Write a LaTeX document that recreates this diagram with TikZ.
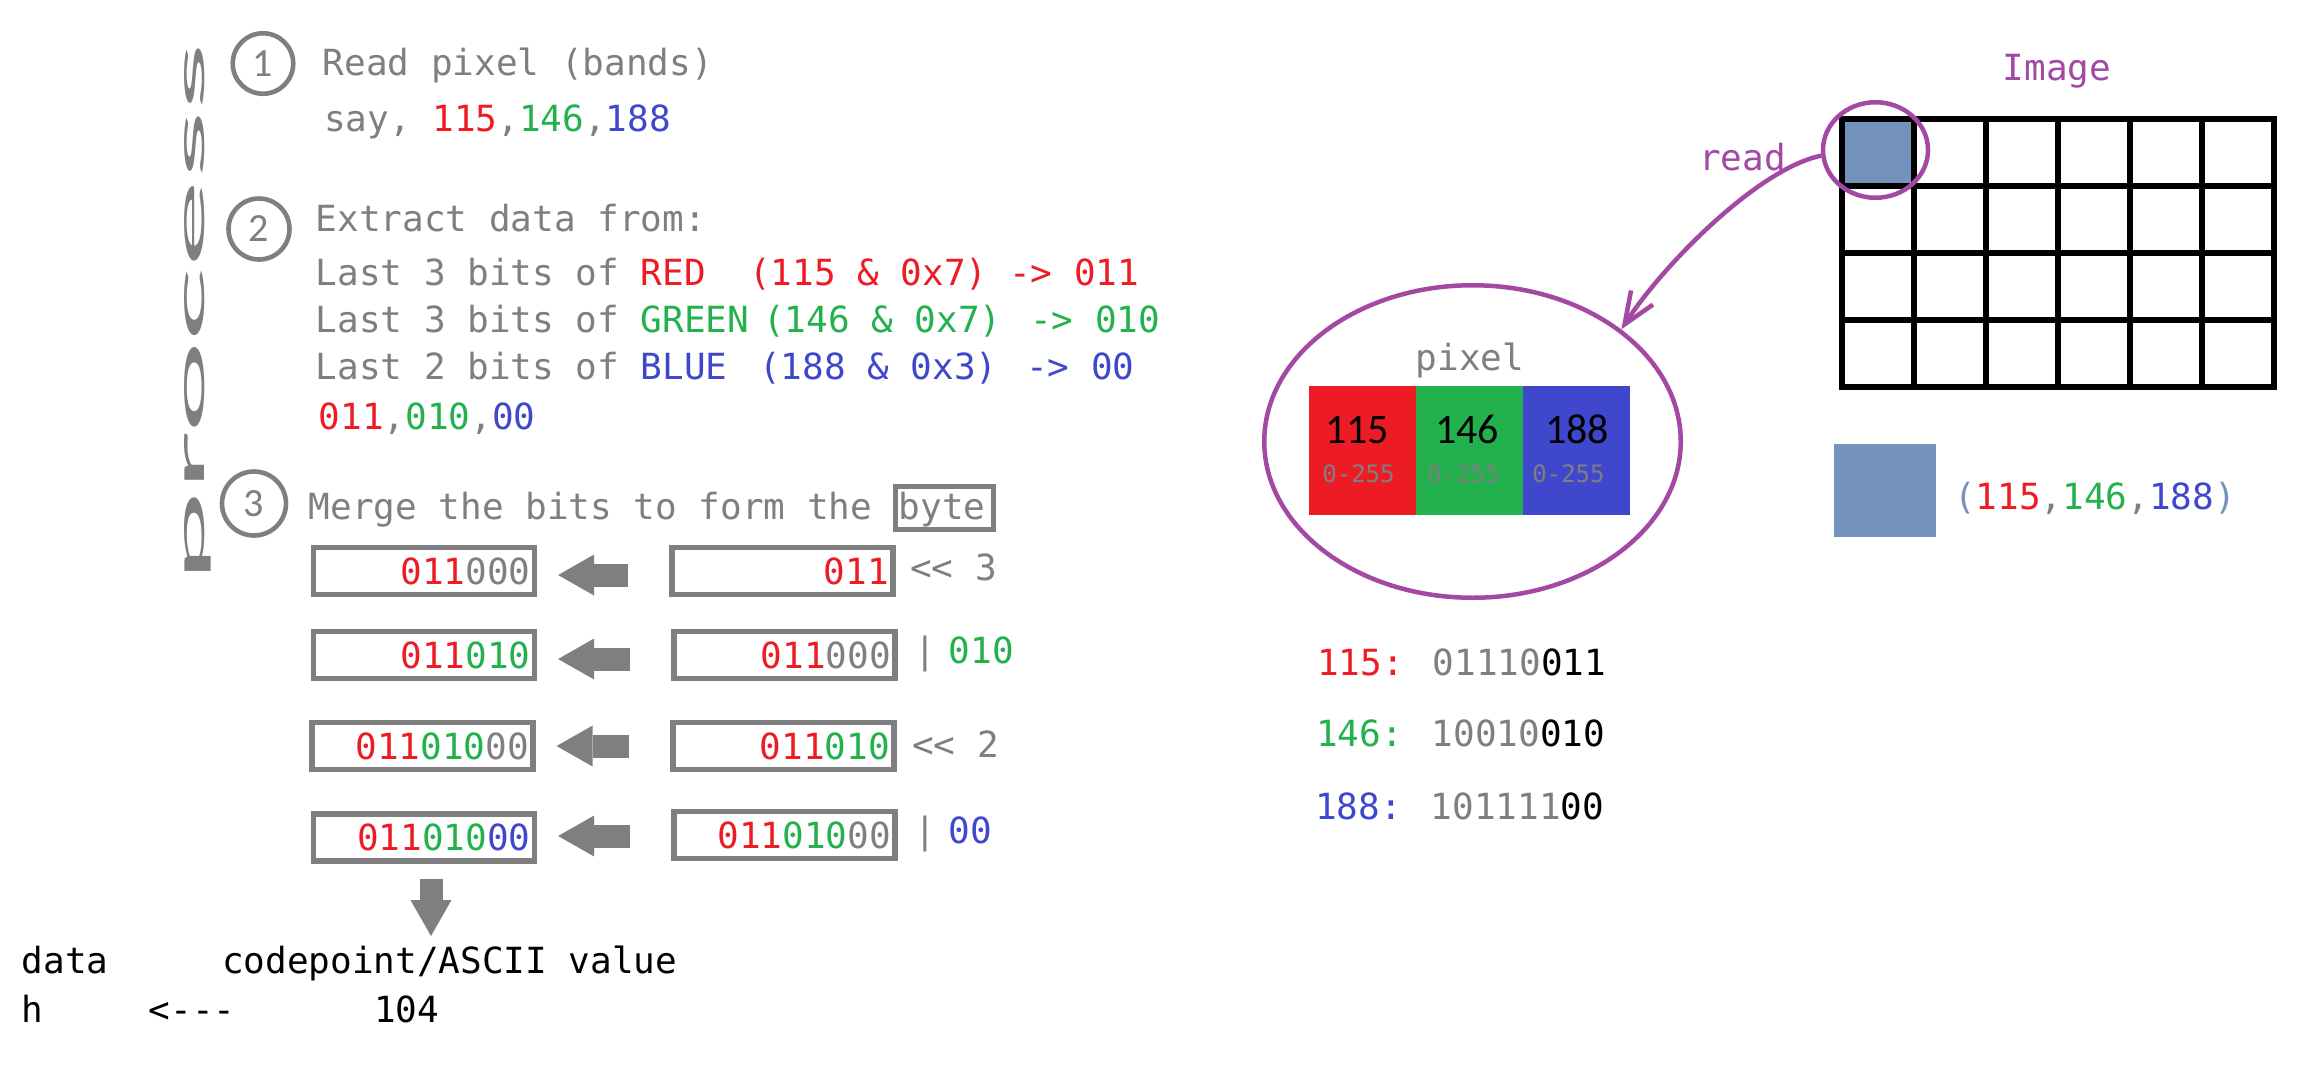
\documentclass[tikz,border=0pt]{standalone}
\usepackage{fontspec}
\usetikzlibrary{shapes.geometric,arrows.meta}
\newfontfamily\monofam{DejaVu Sans Mono}
\newfontfamily\carfam{Carlito}
\definecolor{cgray}{RGB}{127,127,127}
\definecolor{cred}{RGB}{237,28,36}
\definecolor{cgreen}{RGB}{34,177,76}
\definecolor{cblue}{RGB}{63,72,204}
\definecolor{cpurple}{RGB}{163,73,164}
\definecolor{cswatch}{RGB}{115,146,188}
\newcommand\cR[1]{\textcolor{cred}{#1}}
\newcommand\cG[1]{\textcolor{cgreen}{#1}}
\newcommand\cB[1]{\textcolor{cblue}{#1}}
\newcommand\cK[1]{\textcolor{black}{#1}}
\newcommand\mfont{\monofam\fontsize{36pt}{40pt}\selectfont}
\newcommand\sfont{\monofam\fontsize{24pt}{26pt}\selectfont}
\newcommand\cfont{\carfam\fontsize{40pt}{44pt}\selectfont}
\newcommand\pfont{\carfam\fontsize{42pt}{44pt}\selectfont}
\begin{document}
\begin{tikzpicture}[x=1pt,y=-1pt,
  txt/.style={font=\mfont, text=cgray, inner sep=0pt, anchor=base west},
  numcirc/.style={circle, draw=cgray, line width=4.6pt, font=\cfont, text=cgray, inner sep=0pt},
  bitbox/.style={rectangle, draw=cgray, line width=5.2pt, minimum width=221pt, minimum height=47pt, inner sep=0pt},
  bits/.style={font=\mfont, text=cgray, inner sep=0pt, anchor=east},
  blockarrow/.style={draw=cgray, line width=23pt, -{Triangle[length=36pt,width=41pt,line width=0pt]}},
  chan/.style={rectangle, minimum width=107pt, minimum height=129pt, inner sep=0pt},
  chnum/.style={font=\pfont, text=black, inner sep=0pt, anchor=base},
  chrange/.style={font=\sfont, text=cgray, inner sep=0pt, anchor=base},
  purpring/.style={ellipse, draw=cpurple, line width=4.5pt, inner sep=0pt},
  gridline/.style={line width=5.2pt, draw=black}
]
\useasboundingbox (0,0) rectangle (2318,1088);
\fill[white] (0,0) rectangle (2318,1088);

% vertical title
\node[rotate=90, anchor=base west, inner sep=0pt, text=cgray] (proc) at (204,584) {\resizebox{541pt}{20pt}{\carfam process}};

% step circles
\node[numcirc, minimum size=60.5pt] (c1) at (263,63.5) {1};
\node[numcirc, minimum size=61pt] (c2) at (259,229) {2};
\node[numcirc, minimum size=64pt] (c3) at (254,503.5) {3};

% step texts
\node[txt] (s1a) at (322.5,75) {Read pixel (bands)};
\node[txt] (s1b) at (324,131) {say, \cR{115},\cG{146},\cB{188}};
\node[txt] (s2a) at (315.5,231) {Extract data from:};
\node[txt] (s2r) at (315.5,285) {Last 3 bits of \cR{RED~~(115 \& 0x7) -> 011}};
\node[txt] (s2g) at (315.5,332) {Last 3 bits of \cG{GREEN}};
\node[txt, text=cgreen] (s2g2) at (763,332) {(146 \& 0x7)};
\node[txt, text=cgreen] (s2g3) at (1030,332) {-> 010};
\node[txt] (s2b) at (315.5,379) {Last 2 bits of \cB{BLUE}};
\node[txt, text=cblue] (s2b2) at (759,379) {(188 \& 0x3)};
\node[txt, text=cblue] (s2b3) at (1026,379) {-> 00};
\node[txt] (s2c) at (318.5,429) {\cR{011},\cG{010},\cB{00}};
\node[txt] (s3a) at (308.5,519) {Merge the bits to form the};
\node[draw=cgray, line width=5pt, minimum width=98pt, minimum height=43pt, inner sep=0pt] (bytebox) at (944.5,508) {};
\node[txt] (byte) at (898.5,519) {byte};

% bit boxes
\node[bitbox] (l1) at (424,571) {};
\node[bitbox] (r1) at (782.5,571) {};
\node[bitbox] (l2) at (424,655) {};
\node[bitbox] (r2) at (784.5,655) {};
\node[bitbox] (l3) at (422.5,746) {};
\node[bitbox] (r3) at (783.5,746) {};
\node[bitbox] (l4) at (424,837.5) {};
\node[bitbox] (r4) at (784.5,835) {};

\node[bits] (l1t) at ([xshift=-6.5pt]l1.east) {\cR{011}000};
\node[bits] (r1t) at ([xshift=-6.5pt]r1.east) {\cR{011}};
\node[bits] (l2t) at ([xshift=-6.5pt]l2.east) {\cR{011}\cG{010}};
\node[bits] (r2t) at ([xshift=-6.5pt]r2.east) {\cR{011}000};
\node[bits] (l3t) at ([xshift=-6.5pt]l3.east) {\cR{011}\cG{010}00};
\node[bits] (r3t) at ([xshift=-6.5pt]r3.east) {\cR{011}\cG{010}};
\node[bits] (l4t) at ([xshift=-6.5pt]l4.east) {\cR{011}\cG{010}\cB{00}};
\node[bits] (r4t) at ([xshift=-6.5pt]r4.east) {\cR{011}\cG{010}00};

\node[txt] (op1) at (910,580) {<{}< 3};
\node[txt] (op2) at (914,663) {|\hspace{13pt}\cG{010}};
\node[txt] (op3) at (912,757) {<{}< 2};
\node[txt] (op4) at (914,843) {|\hspace{13pt}\cB{00}};

% block arrows
\draw[blockarrow, shorten <=41pt, shorten >=21pt] ([yshift=-4pt]r1.west) -- ([yshift=-4pt]l1.east |- r1.west);
\draw[blockarrow, shorten <=41pt, shorten >=21pt] ([yshift=-4pt]r2.west) -- ([yshift=-4pt]l2.east |- r2.west);
\draw[blockarrow, shorten <=41pt, shorten >=21pt] (r3.west) -- (l3.east |- r3.west);
\draw[blockarrow, shorten <=41pt, shorten >=21pt] ([yshift=-1pt]r4.west) -- ([yshift=-1pt]l4.east |- r4.west);
\coordinate (dtip) at (431,936);
\draw[blockarrow, shorten <=15pt] (l4.south -| dtip) -- (dtip);

% result lines
\node[txt, text=black] (hd1) at (21.5,973) {data};
\node[txt, text=black] (hd2) at (222,973) {codepoint/ASCII value};
\node[txt, text=black] (rw1) at (21,1022) {h};
\node[txt, text=black] (rw2) at (148.5,1022) {<-{}-{}-};
\node[txt, text=black] (rw3) at (374,1022) {104};

% pixel ellipse
\node[purpring, minimum width=416.5pt, minimum height=312.5pt] (bigell) at (1472.5,441.5) {};
\node[txt, anchor=base] (pixlbl) at (1470,370) {pixel};
\node[chan, fill=cred] (chr) at (1362.5,450.5) {};
\node[chan, fill=cgreen] (chg) at (1469.5,450.5) {};
\node[chan, fill=cblue] (chb) at (1576.5,450.5) {};
\node[chnum] (nr) at (1357,443) {115};
\node[chnum] (ng) at (1467,443) {146};
\node[chnum] (nb) at (1577,443) {188};
\node[chrange] (rr) at (1358.5,482) {0-255};
\node[chrange] (rg) at (1463.5,482) {0-255};
\node[chrange] (rb) at (1568.5,482) {0-255};

% binary values
\node[txt] (b1) at (1317,675) {\cR{115:} 01110\cK{011}};
\node[txt] (b2) at (1316,746) {\cG{146:} 10010\cK{010}};
\node[txt] (b3) at (1315,819) {\cB{188:} 101111\cK{00}};

% image grid
\fill[cswatch] (1842,119) rectangle (1914,186);
\foreach \i in {0,...,6} \draw[gridline] ({1842+72*\i},116.4) -- ({1842+72*\i},389.6);
\foreach \j in {0,...,4} \draw[gridline] (1839.4,{119+67*\j}) -- (2276.6,{119+67*\j});
\node[purpring, minimum width=105pt, minimum height=95.5pt] (smallc) at (1875.5,150) {};
\node[txt, text=cpurple, anchor=base] (imglbl) at (2057,80) {Image};
\node[txt, text=cpurple] (readlbl) at (1699,170) {read};
\draw[cpurple, line width=4.5pt, -{Straight Barb[length=32pt,width=26pt]}] (smallc.186) .. controls (1760,168) and (1665,262) .. (bigell.37);

% swatch
\node[fill=cswatch, minimum width=102pt, minimum height=93pt, inner sep=0pt] (swatch) at (1885,490.5) {};
\node[txt] (rgbt) at (1954,509) {\textcolor{cswatch}{(}\cR{115},\cG{146},\cB{188}\textcolor{cswatch}{)}};
\end{tikzpicture}
\end{document}
